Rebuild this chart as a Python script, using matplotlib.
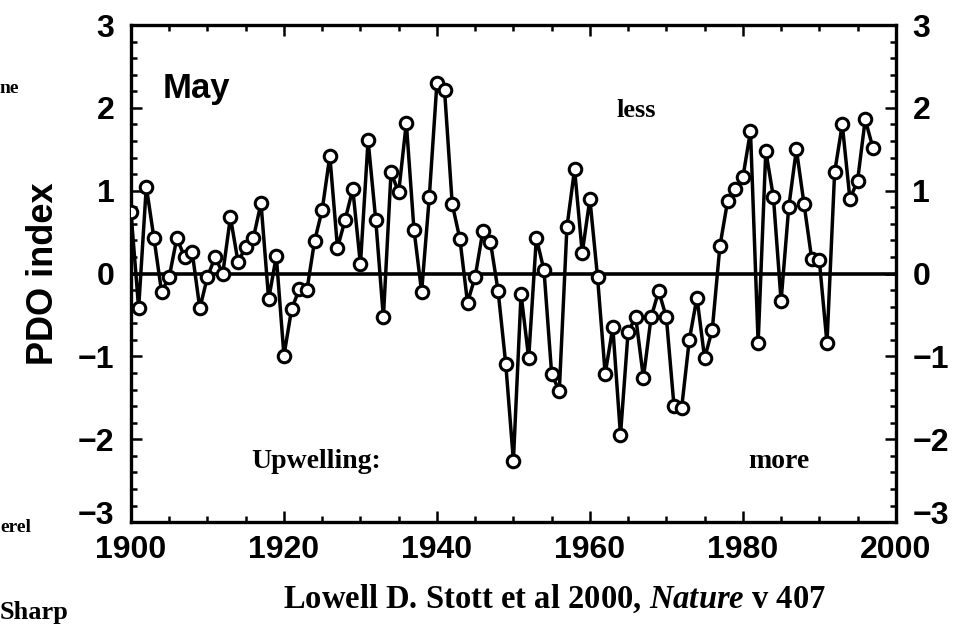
import matplotlib.pyplot as plt
from matplotlib.ticker import MultipleLocator
from matplotlib.transforms import ScaledTranslation

# ---- data: May PDO index, 1900-1997 ----
years = list(range(1900, 1998))
pdo_may = [
    0.74, -0.42, 1.05, 0.43, -0.22, -0.04, 0.43, 0.20, 0.26, -0.42,   # 1900s
    -0.04, 0.20, 0.00, 0.68, 0.14, 0.32, 0.43, 0.85, -0.31, 0.21,     # 1910s
    -0.99, -0.43, -0.19, -0.20, 0.39, 0.77, 1.42, 0.31, 0.65, 1.02,   # 1920s
    0.11, 1.61, 0.65, -0.53, 1.22, 0.98, 1.82, 0.53, -0.22, 0.92,     # 1930s
    2.30, 2.21, 0.84, 0.42, -0.35, -0.04, 0.51, 0.38, -0.21, -1.09,   # 1940s
    -2.26, -0.25, -1.02, 0.43, 0.04, -1.21, -1.42, 0.56, 1.26, 0.25,  # 1950s
    0.90, -0.04, -1.21, -0.65, -1.95, -0.70, -0.53, -1.26, -0.53, -0.21,  # 1960s
    -0.53, -1.60, -1.62, -0.80, -0.29, -1.02, -0.68, 0.33, 0.87, 1.02,    # 1970s
    1.16, 1.72, -0.84, 1.48, 0.92, -0.33, 0.80, 1.50, 0.84, 0.18,     # 1980s
    0.16, -0.84, 1.22, 1.80, 0.90, 1.12, 1.86, 1.52,                  # 1990s
]

x_ticks = [1900, 1920, 1940, 1960, 1980, 2000]
y_ticks = [-3, -2, -1, 0, 1, 2, 3]

# fonts
sans = ['Liberation Sans', 'DejaVu Sans']
serif = ['Liberation Serif', 'DejaVu Serif']
plt.rcParams['font.family'] = sans
plt.rcParams['axes.unicode_minus'] = True
plt.rcParams['mathtext.fontset'] = 'custom'
plt.rcParams['mathtext.it'] = 'Liberation Serif:italic:bold'
plt.rcParams['mathtext.rm'] = 'Liberation Serif:bold'

fig = plt.figure(figsize=(9.54, 6.26), dpi=100)
ax = fig.add_axes([0.1373, 0.166, 0.8017, 0.794])

ax.axhline(0, color='black', lw=2.6, zorder=1)
ax.plot(years, pdo_may, '-', color='black', lw=2.5, zorder=2)
ax.plot(years, pdo_may, 'o', ms=9, mfc='white', mec='black', mew=2.2, zorder=3)

ax.set_xlim(1900, 2000)
ax.set_ylim(-3, 3)
ax.set_xticks(x_ticks)
ax.set_yticks(y_ticks)
ax.xaxis.set_minor_locator(MultipleLocator(5))
ax.yaxis.set_minor_locator(MultipleLocator(0.2))

for s in ax.spines.values():
    s.set_linewidth(2.4)

ax.tick_params(which='both', direction='in', top=True, right=True,
               labelright=True, width=1.8)
ax.tick_params(which='major', length=8)
ax.tick_params(which='minor', length=4)
ax.tick_params(axis='y', which='major', pad=12)
ax.tick_params(axis='x', which='major', pad=9)
for t in ax.xaxis.get_major_ticks():
    t.label1.set_fontsize(23)
    t.label1.set_fontweight('bold')
for t in ax.yaxis.get_major_ticks():
    for lab in (t.label1, t.label2):
        lab.set_fontsize(23)
        lab.set_fontweight('bold')

# nudge the -3 labels up so they clear the year labels
up = ScaledTranslation(0, 7 / 72, fig.dpi_scale_trans)
bottom_tick = ax.yaxis.get_major_ticks()[0]
bottom_tick.label1.set_transform(bottom_tick.label1.get_transform() + up)
bottom_tick.label2.set_transform(bottom_tick.label2.get_transform() + up)

ax.set_ylabel('PDO index', fontsize=26, fontweight='bold', labelpad=12)

# annotations inside the panel
ax.text(0.042, 0.873, 'May', transform=ax.transAxes, fontsize=25,
        fontweight='bold', va='center', ha='left')
ax.text(0.66, 0.829, 'less', transform=ax.transAxes, fontsize=19,
        fontweight='bold', family=serif, va='center', ha='center')
ax.text(0.242, 0.121, 'Upwelling:', transform=ax.transAxes, fontsize=20,
        fontweight='bold', family=serif, va='center', ha='center')
ax.text(0.847, 0.121, 'more', transform=ax.transAxes, fontsize=20,
        fontweight='bold', family=serif, va='center', ha='center')

# citation below the axes
fig.text(0.581, 0.043, 'Lowell D. Stott et al 2000, $\\mathit{Nature}$ v 407',
         fontsize=23.5, fontweight='bold', family=serif, ha='center', va='center')

# fragments of neighbouring slide text at the left edge
fig.text(0.0, 0.859, 'ne', fontsize=14, fontweight='bold', family=serif,
         ha='left', va='center')
fig.text(0.0, 0.158, 'erel', fontsize=14, fontweight='bold', family=serif,
         ha='left', va='center')
fig.text(0.0, 0.003, 'Sharp', fontsize=19, fontweight='bold', family=serif,
         ha='left', va='bottom')

fig.savefig('out.png', dpi=100, facecolor='white')
